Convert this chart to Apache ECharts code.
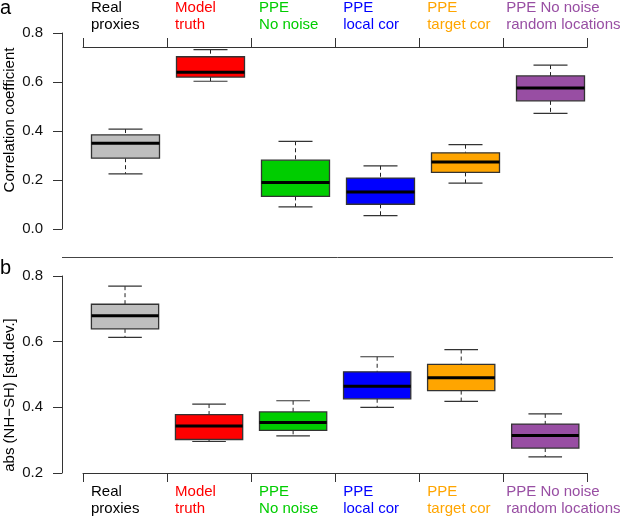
<!DOCTYPE html>
<html>
<head>
<meta charset="utf-8">
<script src="https://cdn.jsdelivr.net/npm/echarts@6/dist/echarts.min.js"></script>
<style>
  html, body { margin: 0; padding: 0; background: #fff; }
  #chart { width: 623px; height: 519px; }
</style>
</head>
<body>
<div id="chart"></div>
<script>
// categories, shared by both panels
const categories = ["Real\nproxies", "Model\ntruth", "PPE\nNo noise", "PPE\nlocal cor", "PPE\ntarget cor", "PPE No noise\nrandom locations"];
const labelColors = ["#000000", "#FF0000", "#00CD00", "#0000FF", "#FFA500", "#984EA3"];
const boxColors = ["#BEBEBE", "#FF0000", "#00CD00", "#0000FF", "#FFA500", "#984EA3"];

// panel a: correlation coefficient  [low whisker, q1, median, q3, high whisker]
const corStats = [
    [0.225, 0.289, 0.350, 0.384, 0.408],
    [0.603, 0.620, 0.640, 0.703, 0.732],
    [0.090, 0.133, 0.190, 0.281, 0.358],
    [0.055, 0.101, 0.151, 0.208, 0.258],
    [0.187, 0.231, 0.273, 0.311, 0.344],
    [0.472, 0.523, 0.576, 0.625, 0.669],
];

// panel b: abs(NH-SH) in std.dev.
const diffStats = [
    [0.613, 0.639, 0.679, 0.714, 0.769],
    [0.296, 0.302, 0.343, 0.378, 0.410],
    [0.313, 0.330, 0.354, 0.386, 0.420],
    [0.400, 0.426, 0.464, 0.508, 0.554],
    [0.418, 0.451, 0.490, 0.531, 0.576],
    [0.249, 0.276, 0.314, 0.349, 0.380],
];

const corTicks = [0, 0.8, 0.2];
const diffTicks = [0.2, 0.8, 0.2];

const FONT = "Liberation Sans, Arial, Helvetica, sans-serif";
const AXIS_COLOR = "#333";

const chart = echarts.init(document.getElementById("chart"), null, { renderer: "canvas" });

const rich = {};
labelColors.forEach((c, i) => {
    rich["c" + i] = {
        color: c,
        fontSize: 15,
        fontFamily: FONT,
        lineHeight: 17,
        width: i === 5 ? 78 : 68,
        align: "left",
    };
});

const labelFormatter = (value, index) =>
    value.split("\n").map(s => "{c" + index + "|" + s + "}").join("\n");

const renderBox = (params, api) => {
    const x = api.value(0);
    const lo = api.coord([x, api.value(1)]);
    const q1 = api.coord([x, api.value(2)]);
    const md = api.coord([x, api.value(3)]);
    const q3 = api.coord([x, api.value(4)]);
    const hi = api.coord([x, api.value(5)]);
    const bw = api.size([1, 0])[0] * 0.8;
    const cw = bw / 2;
    const cx = md[0];
    const dash = { stroke: "#222", lineWidth: 1, lineDash: [4, 3] };
    const solid = { stroke: "#333", lineWidth: 1.2 };
    return {
        type: "group",
        children: [
            { type: "line", shape: { x1: cx, y1: hi[1], x2: cx, y2: q3[1] }, style: dash },
            { type: "line", shape: { x1: cx, y1: q1[1], x2: cx, y2: lo[1] }, style: dash },
            { type: "line", shape: { x1: cx - cw / 2, y1: hi[1], x2: cx + cw / 2, y2: hi[1] }, style: solid },
            { type: "line", shape: { x1: cx - cw / 2, y1: lo[1], x2: cx + cw / 2, y2: lo[1] }, style: solid },
            {
                type: "rect",
                shape: { x: cx - bw / 2, y: q3[1], width: bw, height: q1[1] - q3[1] },
                style: { fill: boxColors[params.dataIndex], stroke: "#333", lineWidth: 1.3 },
            },
            { type: "line", shape: { x1: cx - bw / 2, y1: md[1], x2: cx + bw / 2, y2: md[1] }, style: { stroke: "#000", lineWidth: 3 } },
        ],
    };
};

const makeX = (gridIndex, position, margin, visible) => ({
    gridIndex,
    type: "category",
    data: categories,
    position,
    show: visible,
    boundaryGap: true,
    axisLine: { show: true, onZero: false, lineStyle: { color: AXIS_COLOR, width: 1 } },
    axisTick: { show: true, length: 9, lineStyle: { color: AXIS_COLOR, width: 1 } },
    axisLabel: { interval: 0, margin, formatter: labelFormatter, rich },
    splitLine: { show: false },
});

const makeY = (gridIndex, ticks, visible) => ({
    gridIndex,
    type: "value",
    show: visible,
    min: ticks[0],
    max: ticks[1],
    interval: ticks[2],
    offset: 21,
    axisLine: { show: true, lineStyle: { color: AXIS_COLOR, width: 1 } },
    axisTick: { show: true, length: 9, lineStyle: { color: AXIS_COLOR, width: 1 } },
    axisLabel: { margin: 19, fontSize: 15, fontFamily: FONT, color: "#111", formatter: v => v.toFixed(1) },
    splitLine: { show: false },
});

const option = {
    animation: false,
    backgroundColor: "#fff",
    grid: [
        { left: 83, right: 30, top: 33, height: 196 },
        { left: 83, right: 30, top: 276, bottom: 46 },
        // holds the top category axis of panel a, which sits below the 0.8 tick
        { left: 83, right: 30, top: 45, height: 100 },
    ],
    xAxis: [
        makeX(0, "top", 14, false),
        makeX(1, "bottom", 10, true),
        makeX(2, "top", 14, true),
    ],
    yAxis: [
        makeY(0, corTicks, true),
        makeY(1, diffTicks, true),
        makeY(2, corTicks, false),
    ],
    series: [
        {
            type: "custom",
            xAxisIndex: 0,
            yAxisIndex: 0,
            renderItem: renderBox,
            encode: { x: 0, y: [1, 2, 3, 4, 5] },
            data: corStats.map((s, i) => [i, ...s]),
        },
        {
            type: "custom",
            xAxisIndex: 1,
            yAxisIndex: 1,
            renderItem: renderBox,
            encode: { x: 0, y: [1, 2, 3, 4, 5] },
            data: diffStats.map((s, i) => [i, ...s]),
        },
    ],
    graphic: [
        { type: "text", x: 0, y: 8, style: { text: "a", fontSize: 20, fontFamily: FONT, fill: "#000", verticalAlign: "middle" } },
        { type: "text", x: 0, y: 268, style: { text: "b", fontSize: 20, fontFamily: FONT, fill: "#000", verticalAlign: "middle" } },
        {
            type: "text", x: 10, y: 120, rotation: Math.PI / 2,
            style: { text: "Correlation coefficient", fontSize: 15, fontFamily: FONT, fill: "#000", align: "center", verticalAlign: "middle" },
        },
        {
            type: "text", x: 10, y: 395, rotation: Math.PI / 2,
            style: { text: "abs (NH\u2212SH) [std.dev.]", fontSize: 15, fontFamily: FONT, fill: "#000", align: "center", verticalAlign: "middle" },
        },
        {
            type: "line",
            shape: { x1: 62, y1: 257.5, x2: 613, y2: 257.5 },
            style: { stroke: "#444", lineWidth: 1 },
        },
    ],
};

chart.setOption(option);
</script>
</body>
</html>
